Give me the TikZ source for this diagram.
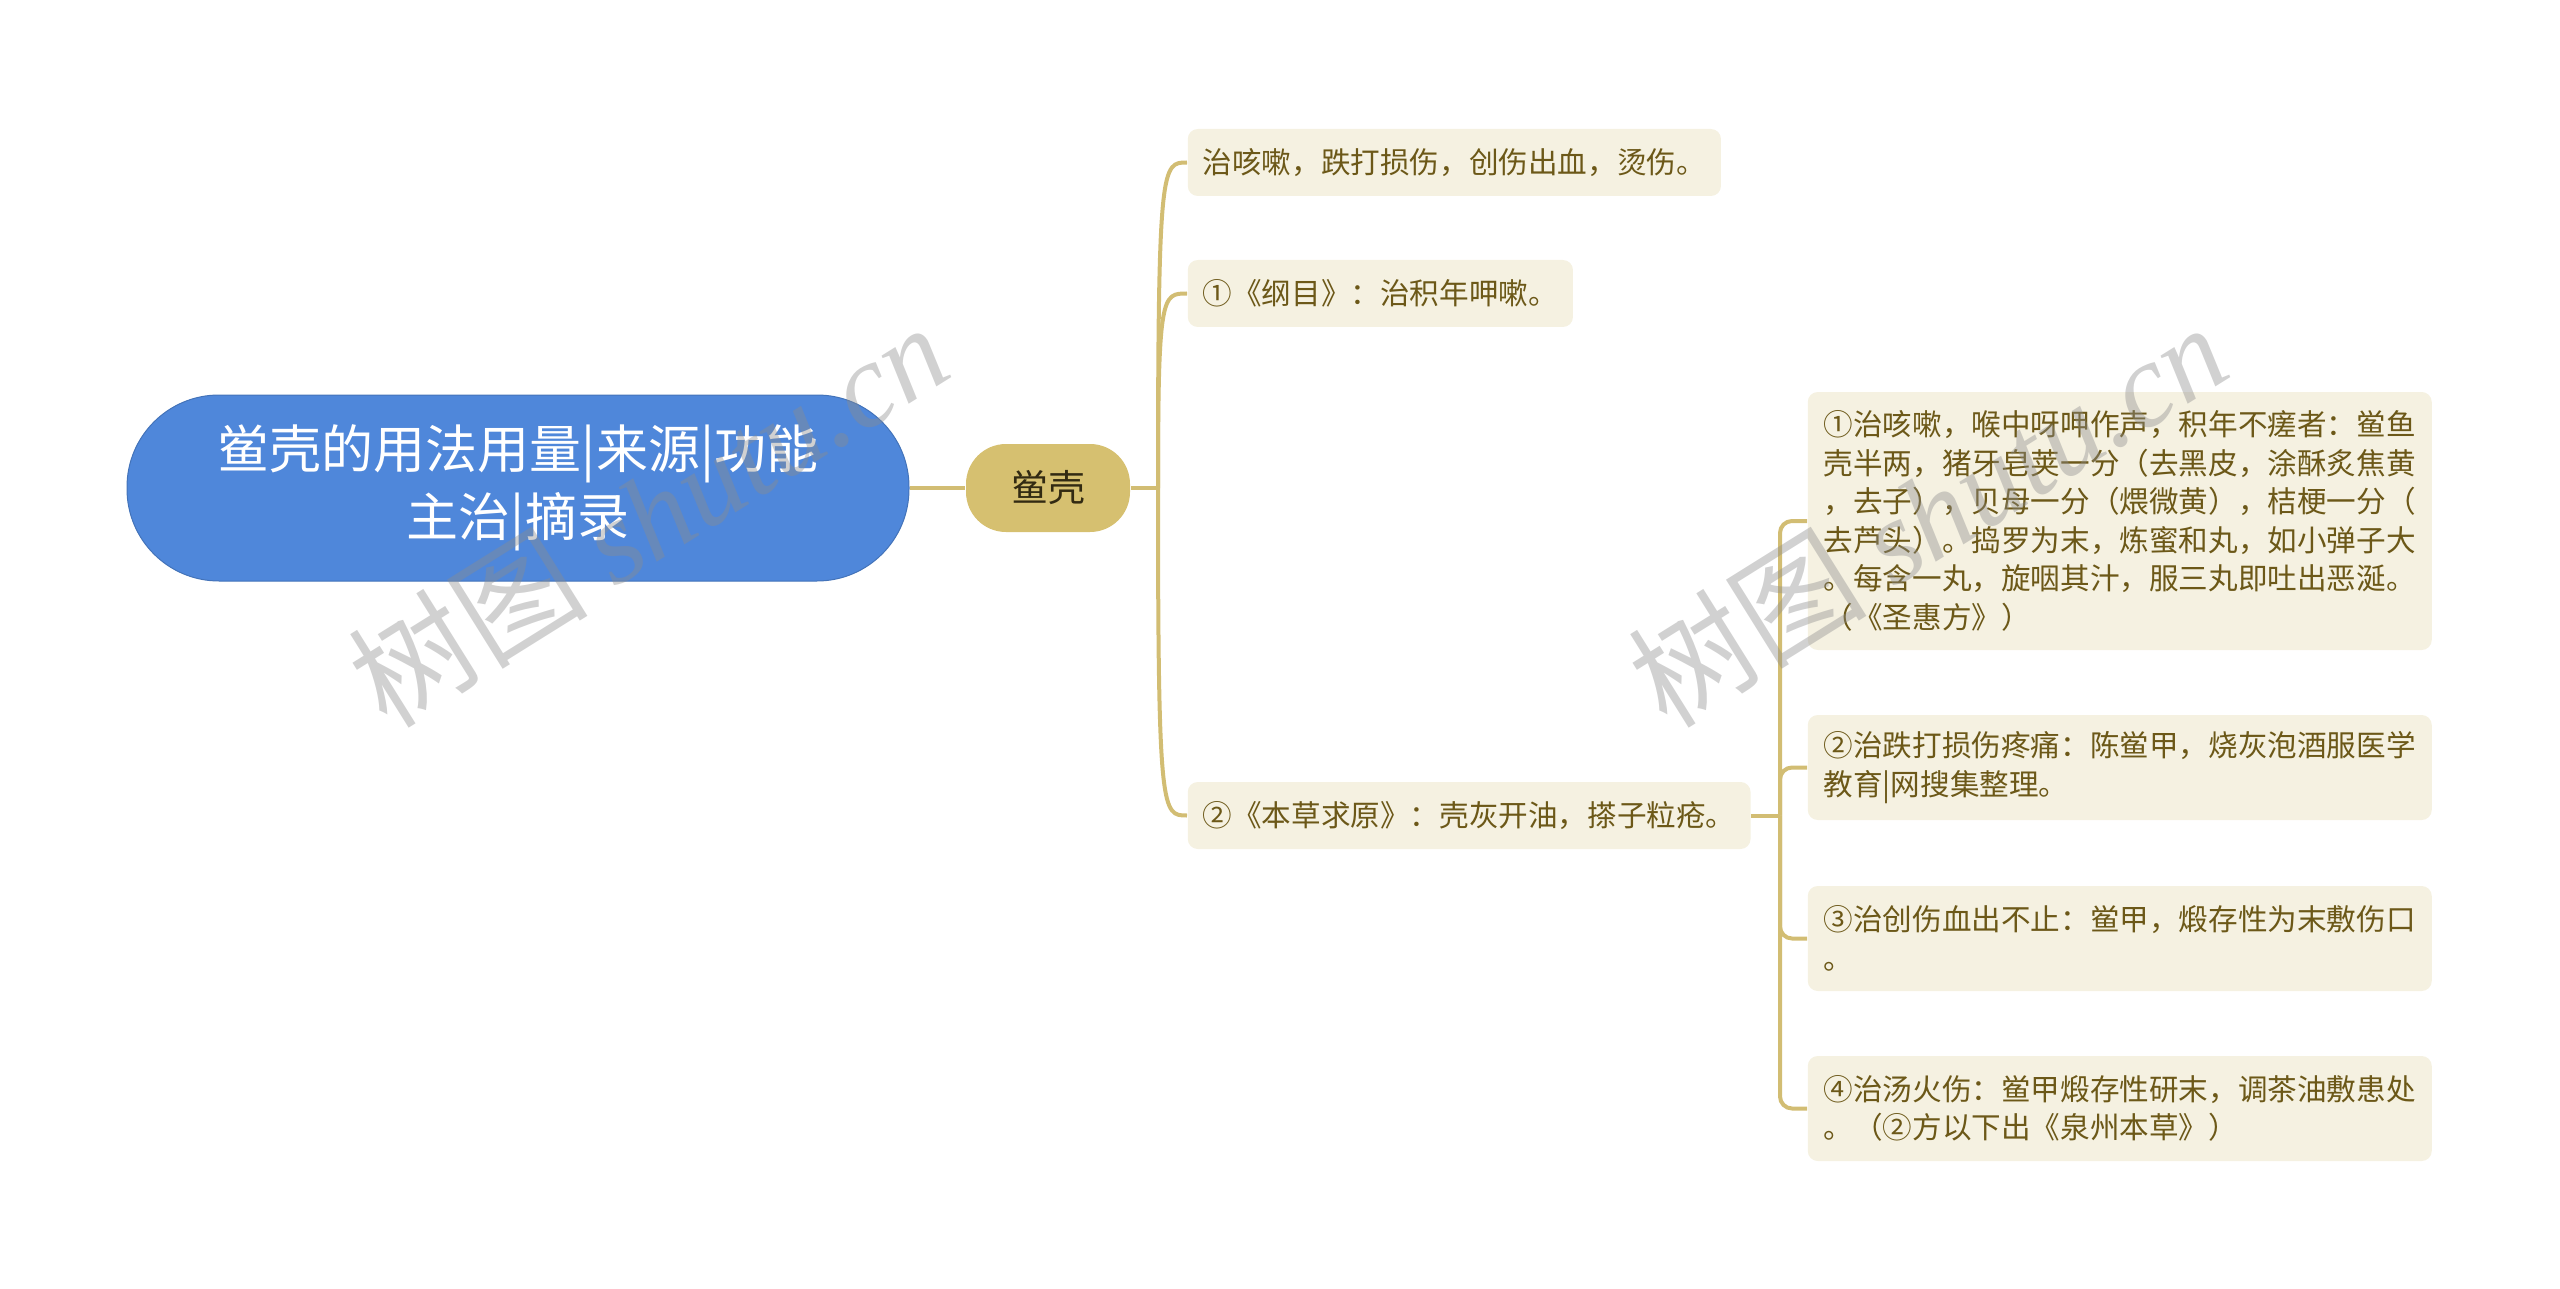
\documentclass[tikz,border=0pt]{standalone}
\usepackage{fontspec}
\setmainfont{Noto Sans CJK SC}
\newfontfamily\wmserif{Liberation Serif}

\definecolor{rootblue}{RGB}{79,135,218}
\definecolor{subgold}{RGB}{214,192,112}
\definecolor{linegold}{RGB}{210,189,115}
\definecolor{leafbg}{RGB}{245,241,225}
\definecolor{leaftext}{RGB}{108,88,24}
\definecolor{subtext}{RGB}{50,42,18}
\definecolor{wmgray}{RGB}{140,140,140}

\tikzset{every picture/.style={line width=0.75pt}}
\tikzset{
  rootbox/.style={fill=rootblue, draw=rootblue!85!black, line width=0.5pt, rounded corners=46pt,
    minimum width=391pt, minimum height=93pt, text=white, align=center,
    font=\fontsize{26pt}{34pt}\selectfont},
  subbox/.style={fill=subgold, rounded corners=20pt, minimum width=82pt, minimum height=44pt,
    text=subtext, font=\fontsize{18.5pt}{22pt}\selectfont},
  leafbox/.style={fill=leafbg, rounded corners=5pt, anchor=west, inner xsep=7.5pt,
    minimum height=33.5pt, text=leaftext, font=\fontsize{14.8pt}{19.25pt}\selectfont},
  notebox/.style={leafbox, text width=296pt, inner xsep=8pt, align=left},
  link/.style={draw=linegold, line width=2pt},
  wmark/.style={text=wmgray, opacity=0.4, rotate=32, font=\fontsize{60pt}{60pt}\selectfont}
}

\begin{document}
\begin{tikzpicture}[x=0.5pt,y=0.5pt,yscale=-1,xscale=1]
	\useasboundingbox (0,0) rectangle (2560,1289);

	% Root Node
	\node[rootbox] (root) at (518,488) {鲎壳的用法用量|来源|功能\\主治|摘录};
	% Main Topic
	\node[subbox] (sub) at (1048,488) {鲎壳};
	\coordinate (fork) at (1158,488);

	% Subtopics
	\node[leafbox] (zhi) at (1187,162.5) {治咳嗽，跌打损伤，创伤出血，烫伤。};
	\node[leafbox] (gangmu) at (1187,293.5) {①《纲目》：治积年呷嗽。};
	\node[leafbox] (qiuyuan) at (1187,815.5) {②《本草求原》：壳灰开油，搽子粒疮。};
	\coordinate (fork2) at (1780,815.5);

	% Notes
	\node[notebox, minimum height=129pt] (fang1) at (1807,521) {①治咳嗽，喉中呀呷作声，积年不瘥者：鲎鱼\\壳半两，猪牙皂荚一分（去黑皮，涂酥炙焦黄\\，去子），贝母一分（煨微黄），桔梗一分（\\去芦头）。捣罗为末，炼蜜和丸，如小弹子大\\。每含一丸，旋咽其汁，服三丸即吐出恶涎。\\（《圣惠方》）};
	\node[notebox, minimum height=52.5pt] (fang2) at (1807,767.5) {②治跌打损伤疼痛：陈鲎甲，烧灰泡酒服医学\\教育|网搜集整理。};
	\node[notebox, minimum height=52.5pt] (fang3) at (1807,938.5) {③治创伤血出不止：鲎甲，煅存性为末敷伤口\\。};
	\node[notebox, minimum height=52.5pt] (fang4) at (1807,1108.5) {④治汤火伤：鲎甲煅存性研末，调茶油敷患处\\。（②方以下出《泉州本草》）};

	% Connectors
	\draw[link] (root.east) -- (sub.west);
	\draw[link] (sub.east) -- (fork);
	\draw[link] (fork) .. controls (fork |- zhi.west) and +(-25,0) .. (zhi.west);
	\draw[link] (fork) .. controls (fork |- gangmu.west) and +(-25,0) .. (gangmu.west);
	\draw[link] (fork) .. controls (fork |- qiuyuan.west) and +(-25,0) .. (qiuyuan.west);
	\draw[link] (qiuyuan.east) -- (fork2);
	\draw[link, rounded corners=6pt] (fork2) |- (fang1.west);
	\draw[link, rounded corners=6pt] (fork2) |- (fang2.west);
	\draw[link, rounded corners=6pt] (fork2) |- (fang3.west);
	\draw[link, rounded corners=6pt] (fork2) |- (fang4.west);

	% Watermarks
	\node[wmark] (wm1) at (648,514) {树图 {\wmserif\itshape shutu.cn}};
	\node[wmark] (wm2) at (1927,514) {树图 {\wmserif\itshape shutu.cn}};

\end{tikzpicture}
\end{document}
